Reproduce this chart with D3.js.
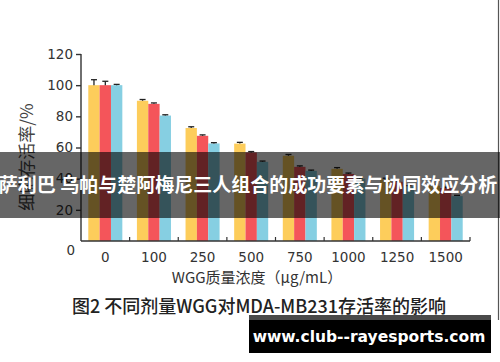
<!DOCTYPE html>
<html>
<head>
<meta charset="utf-8">
<script src="https://cdn.jsdelivr.net/npm/d3@7"></script>
<style>
  body { margin: 0; background: #fff; }
  svg { display: block; }
</style>
</head>
<body>
<div id="chart"></div>
<script>
// data
var doses = ["0", "100", "250", "500", "750", "1000", "1250", "1500"];
var series = ["a", "b", "c"];
var valuesA = [100, 90, 72.5, 62.5, 54.7, 46.3, 39.5, 35.5];
var valuesB = [100, 88, 67.5, 56.8, 47.6, 43, 38, 34];
var valuesC = [100, 80.5, 62.6, 50.8, 45, 40, 35, 28.8];
var errA = [3.5, 0.8, 0.8, 0.8, 0.8, 0.8, 0.8, 0.8];
var errB = [2.5, 0.6, 0.6, 0.6, 0.6, 0.6, 0.6, 0.6];
var errC = [0.5, 0.5, 0.5, 0.5, 0.5, 0.5, 0.5, 0.5];
var yTicks = [20, 40, 60, 80, 100, 120];
var colors = ["#fdcd5b", "#f4555a", "#86cfe2"];

function main(){
    var W = 500, H = 362;
    var svg = d3.select("#chart").append("svg")
        .attr("width", W)
        .attr("height", H);

    var x0 = d3.scaleBand().domain(doses).range([81, 470]);
    var bw = x0.bandwidth();
    var x1 = d3.scaleBand().domain(series).range([bw * 0.15, bw * 0.85]);
    var y = d3.scaleLinear().domain([0, 120]).range([241, 54]);

    var vals = [valuesA, valuesB, valuesC];
    var errs = [errA, errB, errC];
    var rows = [];
    doses.forEach(function(d, i){
        series.forEach(function(s, j){
            rows.push({dose: d, s: s, v: vals[j][i], e: errs[j][i], c: colors[j]});
        });
    });

    // bars
    svg.append("g").selectAll("rect")
        .data(rows)
        .enter().append("rect")
        .attr("x", function(d){ return x0(d.dose) + x1(d.s); })
        .attr("y", function(d){ return y(d.v); })
        .attr("width", x1.bandwidth())
        .attr("height", function(d){ return y(0) - y(d.v); })
        .attr("fill", function(d){ return d.c; });

    // error bars
    var eg = svg.append("g").attr("stroke", "#222").attr("stroke-width", 1.3);
    rows.forEach(function(d){
        var cx = x0(d.dose) + x1(d.s) + x1.bandwidth() / 2;
        eg.append("line")
            .attr("x1", cx).attr("x2", cx)
            .attr("y1", y(d.v)).attr("y2", y(d.v + d.e));
        eg.append("line")
            .attr("x1", cx - 3).attr("x2", cx + 3)
            .attr("y1", y(d.v + d.e)).attr("y2", y(d.v + d.e));
    });

    // y axis
    var yAxis = svg.append("g")
        .attr("transform", "translate(81,0)")
        .call(d3.axisLeft(y).tickValues(yTicks).tickSize(5).tickSizeOuter(0));
    yAxis.select(".domain").attr("stroke", "#333").attr("stroke-width", 1.4)
        .attr("d", "M0," + y(120) + "V" + y(0));
    yAxis.selectAll(".tick line").attr("stroke", "#333").attr("stroke-width", 1.4);
    yAxis.selectAll(".tick text")
        .attr("x", -8)
        .attr("fill", "#333")
        .style("font-family", "'DejaVu Sans', sans-serif")
        .style("font-size", "13.5px");

    svg.append("text")
        .attr("x", 75).attr("y", 255)
        .attr("text-anchor", "end")
        .attr("fill", "#333")
        .style("font-family", "'DejaVu Sans', sans-serif")
        .style("font-size", "13.5px")
        .text("0");

    // x axis
    var xg = svg.append("g").attr("transform", "translate(0,241)");
    xg.append("line")
        .attr("x1", 81).attr("x2", 470)
        .attr("stroke", "#333").attr("stroke-width", 1.4);
    xg.selectAll(".xt")
        .data(doses)
        .enter().append("line")
        .attr("x1", function(d){ return x0(d) + bw; })
        .attr("x2", function(d){ return x0(d) + bw; })
        .attr("y1", 0).attr("y2", -4)
        .attr("stroke", "#333").attr("stroke-width", 1.2);
    xg.selectAll(".xl")
        .data(doses)
        .enter().append("text")
        .attr("x", function(d){ return x0(d) + bw / 2; })
        .attr("y", 21)
        .attr("text-anchor", "middle")
        .attr("fill", "#333")
        .style("font-family", "'DejaVu Sans', sans-serif")
        .style("font-size", "13.5px")
        .text(function(d){ return d; });

    // axis titles
    svg.append("text")
        .attr("x", 257).attr("y", 283)
        .attr("text-anchor", "middle")
        .attr("fill", "#333")
        .style("font-family", "'Noto Sans CJK SC', sans-serif")
        .style("font-size", "15px")
        .text("WGG质量浓度（μg/mL）");

    svg.append("text")
        .attr("transform", "translate(33,157) rotate(-90)")
        .attr("text-anchor", "middle")
        .attr("fill", "#444")
        .style("font-family", "'Noto Sans CJK SC', sans-serif")
        .style("font-size", "17px")
        .text("细胞存活率/%");

    // caption
    svg.append("text")
        .attr("x", 259).attr("y", 313)
        .attr("text-anchor", "middle")
        .attr("fill", "#222")
        .style("font-family", "'Noto Sans CJK SC', sans-serif")
        .style("font-size", "18px")
        .style("font-weight", "500")
        .text("图2  不同剂量WGG对MDA-MB231存活率的影响");

    // right border line
    svg.append("line")
        .attr("x1", 498.5).attr("x2", 498.5)
        .attr("y1", 0).attr("y2", 320)
        .attr("stroke", "#555").attr("stroke-width", 1.2);

    // headline overlay
    svg.append("rect")
        .attr("x", 0).attr("y", 152)
        .attr("width", W).attr("height", 66)
        .attr("fill", "rgba(0,0,0,0.6)");
    svg.append("text")
        .attr("x", 248).attr("y", 192)
        .attr("text-anchor", "middle")
        .attr("fill", "#fff")
        .style("font-family", "'Noto Sans CJK SC', sans-serif")
        .style("font-size", "19px")
        .style("font-weight", "bold")
        .text("萨利巴 乌帕与楚阿梅尼三人组合的成功要素与协同效应分析");

    // watermark
    svg.append("rect")
        .attr("x", 249).attr("y", 315)
        .attr("width", 242).attr("height", 38)
        .attr("fill", "#4a4a4a");
    svg.append("rect")
        .attr("x", 249).attr("y", 320)
        .attr("width", 242).attr("height", 33)
        .attr("fill", "#000");
    svg.append("text")
        .attr("x", 369).attr("y", 342)
        .attr("text-anchor", "middle")
        .attr("fill", "#fff")
        .style("font-family", "'DejaVu Sans', sans-serif")
        .style("font-size", "15.5px")
        .style("font-weight", "bold")
        .text("www.club--rayesports.com");
}

main()
</script>
</body>
</html>
